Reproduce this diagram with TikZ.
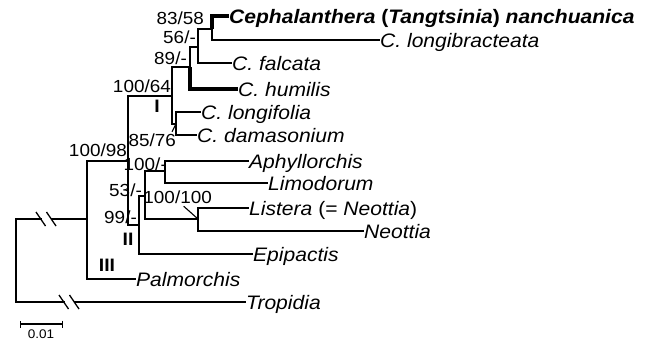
\documentclass[tikz,border=0pt]{standalone}
\usepackage{fontspec}
\setmainfont{Liberation Sans}[FakeStretch=1.08]
\usepackage{tikz}
\usetikzlibrary{arrows.meta,calc}

\begin{document}
\begin{tikzpicture}[x=1pt,y=-1pt,
    branch/.style={line width=1.6pt,line join=miter},
    thickbranch/.style={line width=4.2pt,line join=miter},
    taxon/.style={anchor=west,inner sep=0pt,text height=14pt,text depth=0pt,
                  font=\fontsize{19.5}{22}\selectfont\itshape},
    support/.style={anchor=east,inner sep=0pt,text height=12pt,text depth=0pt,
                    font=\fontsize{17.5}{20}\selectfont},
    clade/.style={inner sep=0pt,font=\fontsize{18}{20}\selectfont\bfseries},
    brk/.style={line width=1.3pt}
]
\useasboundingbox (0,0) rectangle (651,343);

% taxa
\node[taxon,font=\fontsize{19.5}{22}\selectfont\bfseries] (nanch) at (229,16)
     {\textit{Cephalanthera} (\textit{Tangtsinia}) \textit{nanchuanica}};
\node[taxon] (longib) at (380,40)  {C. longibracteata};
\node[taxon] (falc)   at (232,63)  {C. falcata};
\node[taxon] (humil)  at (238,89)  {C. humilis};
\node[taxon] (longif) at (201,112) {C. longifolia};
\node[taxon] (damas)  at (197,135) {C. damasonium};
\node[taxon] (aphyl)  at (249,161) {Aphyllorchis};
\node[taxon] (limod)  at (268,183) {Limodorum};
\node[taxon] (lister) at (249,208) {Listera \textup{(=} Neottia\textup{)}};
\node[taxon] (neott)  at (364,231) {Neottia};
\node[taxon] (epip)   at (253,254) {Epipactis};
\node[taxon] (palm)   at (136,279) {Palmorchis};
\node[taxon] (trop)   at (246,302) {Tropidia};

% internal nodes
\coordinate (root)  at (16,260);
\coordinate (nout)  at (87,219);
\coordinate (nbig)  at (128,161);
\coordinate (ni)    at (172,96);
\coordinate (n89)   at (190,67);
\coordinate (n56)   at (198,47);
\coordinate (n83)   at (212,29);
\coordinate (n85)   at (176,124);
\coordinate (nii)   at (139,225);
\coordinate (n53)   at (145,196);
\coordinate (n100)  at (165,171);
\coordinate (nlist) at (198,219);

% branches
\draw[branch] (root) |- (nout);
\draw[branch] (root) |- (trop.west);
\draw[branch] (nout) |- (nbig);
\draw[branch] (nout) |- (palm.west);
\draw[branch] (nbig) |- (ni);
\draw[branch] (nbig) |- (nii);
\draw[branch] (ni) |- (n89);
\draw[branch] (ni) |- (n85);
\draw[branch] (n89) |- (n56);
\draw[thickbranch] (n89) |- (humil.west);
\draw[branch] (n56) |- (n83);
\draw[branch] (n56) |- (falc.west);
\draw[thickbranch] (n83) |- (nanch.west);
\draw[branch] (n83) |- (longib.west);
\draw[branch] (n85) |- (longif.west);
\draw[branch] (n85) |- (damas.west);
\draw[branch] (nii) |- (n53);
\draw[branch] (nii) |- (epip.west);
\draw[branch] (n53) |- (n100);
\draw[branch] (n53) |- (nlist);
\draw[branch] (n100) |- (aphyl.west);
\draw[branch] (n100) |- (limod.west);
\draw[branch] (nlist) |- (lister.west);
\draw[branch] (nlist) |- (neott.west);

% broken branches
\coordinate (brka) at (46,219);
\coordinate (brkb) at (69,302);
\foreach \c in {brka,brkb} {
  \fill[white] ($(\c)+(-4.5,-2)$) rectangle ($(\c)+(4.5,2)$);
  \draw[brk] ($(\c)+(-10,-7)$) -- ($(\c)+(-0.5,7)$);
  \draw[brk] ($(\c)+(0.5,-7)$) -- ($(\c)+(10,7)$);
}

% support values
\node[support] (s83)  at (204,18)  {83/58};
\node[support] (s56)  at (196,37)  {56/-};
\node[support] (s89)  at (187,58)  {89/-};
\node[support] (s64)  at (171,86)  {100/64};
\node[support] (s85)  at (176,140) {85/76};
\node[support] (s98)  at (127,150) {100/98};
\node[support] (s100) at (167,164) {100/-};
\node[support] (s53)  at (142,190) {53/-};
\node[support] (s100b) at (212,197) {100/100};
\node[support] (s99)  at (137,217) {99/-};
\draw[line width=1.1pt] (s100b.south) ++(6,3) -- (nlist);
\draw[line width=1.1pt] (s85.north east) ++(-4,-2) -- (n85);

% clades
\node[clade] (cI)   at (157,106) {I};
\node[clade] (cII)  at (128,239) {II};
\node[clade] (cIII) at (107,265) {III};

% scale bar
\coordinate (sba) at (20,324);
\coordinate (sbb) at (63,324);
\draw[line width=1.3pt,{Bar[width=7pt]}-{Bar[width=7pt]}] (sba) -- (sbb);
\node[inner sep=0pt,font=\fontsize{12.5}{14}\selectfont] (sblab) at (41,334) {0.01};
\end{tikzpicture}
\end{document}
